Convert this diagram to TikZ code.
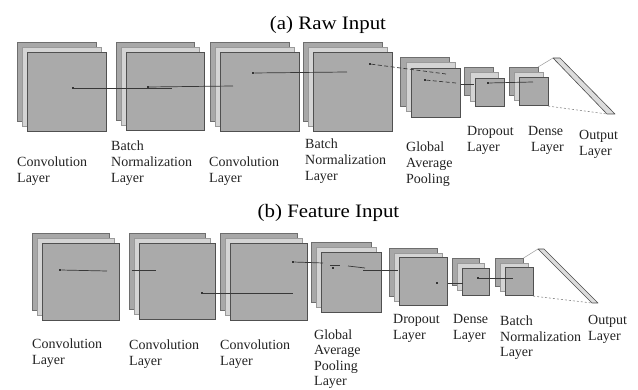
\documentclass[tikz,border=0pt]{standalone}
\usepackage{fontspec}
\setmainfont{Liberation Serif}
\newfontfamily\titlefont[FakeStretch=1.1]{Liberation Serif}
\definecolor{backfill}{HTML}{A8A8A8}
\definecolor{backdraw}{HTML}{6E6E6E}
\definecolor{midfill}{HTML}{D4D4D4}
\definecolor{middraw}{HTML}{9A9A9A}
\definecolor{frontfill}{HTML}{AAAAAA}
\definecolor{frontdraw}{HTML}{505050}
\definecolor{platefill}{HTML}{DCDCDC}
\definecolor{txt}{HTML}{222222}
\tikzset{
  sq/.style={rectangle, anchor=north west, inner sep=0pt, line width=0.6pt},
  backsq/.style={sq, fill=backfill, draw=backdraw},
  midsq/.style={sq, fill=midfill, draw=middraw},
  frontsq/.style={sq, fill=frontfill, draw=frontdraw},
  dotmark/.style={rectangle, fill=black!80, inner sep=0pt, minimum size=2.2pt},
  link/.style={draw=black!78, line width=0.7pt},
  dashlink/.style={draw=black!78, line width=0.7pt, dash pattern=on 4pt off 2.5pt},
  guide/.style={draw=black!40, line width=0.5pt},
  dotguide/.style={draw=black!45, line width=0.6pt, dash pattern=on 2pt off 2pt},
  plate/.style={fill=platefill, draw=black!70, line width=0.6pt, line join=round},
  lbl/.style={anchor=base west, align=left, inner sep=0pt, text=txt,
              font=\fontsize{14}{16}\selectfont},
  ttl/.style={anchor=base, inner sep=0pt, text=black,
              font=\titlefont\fontsize{19}{22}\selectfont}
}
\newcommand\layerstack[5]{%
  \node[backsq, minimum size=#4pt] (#1b) at (#2,#3) {};
  \node[midsq, minimum size=#4pt] (#1m) at ({#2+#5},{#3+#5}) {};
  \node[frontsq, minimum size=#4pt] (#1f) at ({#2+2*#5},{#3+2*#5}) {};}
\begin{document}
\begin{tikzpicture}[x=1pt,y=-1pt]
\useasboundingbox (0,0) rectangle (638,390);

% ---------------- (a) Raw Input ----------------
\node[ttl] (ta) at (328,30) {(a) Raw Input};

\layerstack{A1}{17}{42}{79}{5}
\layerstack{A2}{116}{42}{78}{5}
\layerstack{A3}{210}{42}{79}{5}
\layerstack{A4}{303}{42}{79}{5}
\layerstack{A5}{400}{57}{49}{5.5}
\layerstack{A6}{464}{67}{28.5}{5.5}
\layerstack{A7}{509}{67}{28.5}{5}

\coordinate (pa1) at (553,58);
\coordinate (pa2) at (560,58);
\coordinate (pa3) at (615,114);
\coordinate (pa4) at (607,114);
\draw[guide] (A7b.north east) -- (pa1);
\draw[dotguide] (A7f.south east) -- (pa4);
\draw[plate] (pa1) -- (pa2) -- (pa3) -- (pa4) -- cycle;

% connections (a)
\node[dotmark] (ad1) at (73,88) {};
\coordinate (ae1) at (172,88);
\draw[link] (ad1) -- (ae1);
\node[dotmark, minimum size=1.6pt] (ad2) at (148,87) {};
\coordinate (ae2) at (233,86);
\draw[link] (ad2) -- (ae2);
\node[dotmark] (ad3) at (253,73) {};
\coordinate (ae3) at (347,72);
\draw[link] (ad3) -- (ae3);
\node[dotmark] (ad4) at (370,64) {};
\coordinate (ae4) at (446,74);
\draw[dashlink] (ad4) -- (ae4);
\node[dotmark] (ad5) at (425,80) {};
\coordinate (ae5) at (456,83);
\draw[dashlink] (ad5) -- (ae5);
\coordinate (as6) at (461,84);
\coordinate (ae6) at (474,84);
\draw[link] (as6) -- (ae6);
\node[dotmark] (ad7) at (488,83) {};
\coordinate (ae7) at (533,82);
\draw[link] (ad7) -- (ae7);

% labels (a)  (anchor = baseline of last line)
\node[lbl] (la1) at (17,183) {Convolution\\Layer};
\node[lbl] (la2) at (111,183) {Batch\\Normalization\\Layer};
\node[lbl] (la3) at (209,183) {Convolution\\Layer};
\node[lbl] (la4) at (305,181) {Batch\\Normalization\\Layer};
\node[lbl] (la5) at (406,184) {Global\\Average\\Pooling};
\node[lbl] (la6) at (467,152) {Dropout\\Layer};
\node[lbl] (la7) at (528,152) {Dense\\\hspace*{3pt}Layer};
\node[lbl] (la8) at (579,156) {Output\\Layer};

% ---------------- (b) Feature Input ----------------
\node[ttl] (tb) at (328.5,218) {(b) Feature Input};

\layerstack{B1}{32}{233}{77}{5}
\layerstack{B2}{129}{233}{76}{5}
\layerstack{B3}{220}{233}{77}{5}
\layerstack{B4}{311}{242}{60}{5}
\layerstack{B5}{389}{248}{48}{4.75}
\layerstack{B6}{452}{258}{27}{5}
\layerstack{B7}{495}{258}{28}{4.75}

\coordinate (pb1) at (538,249);
\coordinate (pb2) at (544,249);
\coordinate (pb3) at (598,303);
\coordinate (pb4) at (592,303);
\draw[guide] (B7b.north east) -- (pb1);
\draw[dotguide] (B7f.south east) -- (pb4);
\draw[plate] (pb1) -- (pb2) -- (pb3) -- (pb4) -- cycle;

% connections (b)
\node[dotmark] (bd1) at (60,270) {};
\coordinate (be1) at (107,271);
\draw[link] (bd1) -- (be1);
\coordinate (bs2) at (132,270);
\coordinate (be2) at (156,270);
\draw[link] (bs2) -- (be2);
\node[dotmark] (bd3) at (202,293) {};
\coordinate (be3) at (293,293);
\draw[link] (bd3) -- (be3);
\node[dotmark] (bd4) at (293,262) {};
\coordinate (be4) at (323,263);
\draw[link] (bd4) -- (be4);
\node[dotmark] (bd5) at (333,268) {};
\coordinate (bs5) at (330,265);
\coordinate (be5) at (340,265);
\draw[link] (bs5) -- (be5);
\coordinate (bs6) at (348,266);
\coordinate (be6) at (365,268);
\draw[link] (bs6) -- (be6);
\coordinate (bs7) at (363,270);
\coordinate (be7) at (398,270);
\draw[link] (bs7) -- (be7);
\node[dotmark] (bd8) at (437,283) {};
\coordinate (bs8) at (448,283);
\coordinate (be8) at (463,283);
\draw[link] (bs8) -- (be8);
\node[dotmark] (bd9) at (478,278) {};
\coordinate (be9) at (513,278);
\draw[link] (bd9) -- (be9);

% labels (b)  (anchor = baseline of last line)
\node[lbl] (lb1) at (32,365) {Convolution\\Layer};
\node[lbl] (lb2) at (129,366) {Convolution\\Layer};
\node[lbl] (lb3) at (220,366) {Convolution\\Layer};
\node[lbl, font=\fontsize{14}{15.5}\selectfont] (lb4) at (314,385.5) {Global\\Average\\Pooling\\Layer};
\node[lbl] (lb5) at (393,340) {Dropout\\Layer};
\node[lbl] (lb6) at (453,340) {Dense\\Layer};
\node[lbl] (lb7) at (500,357) {Batch\\Normalization\\Layer};
\node[lbl] (lb8) at (588,341) {Output\\Layer};
\end{tikzpicture}
\end{document}
